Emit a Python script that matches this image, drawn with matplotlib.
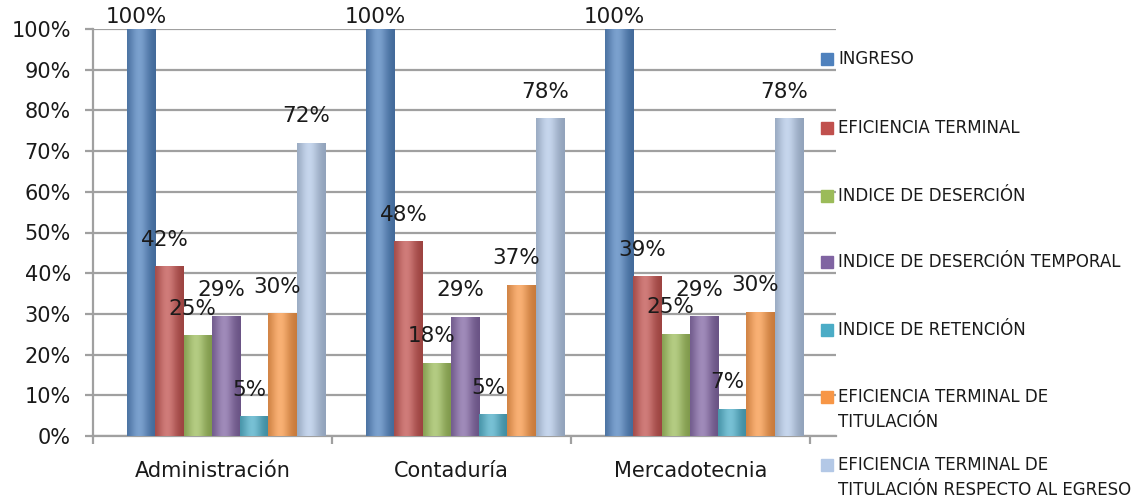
import numpy as np
import matplotlib.pyplot as plt
from matplotlib.colors import to_rgb
from matplotlib.patches import Rectangle

categorias = ["Administración", "Contaduría", "Mercadotecnia"]
series = ["INGRESO", "EFICIENCIA TERMINAL", "INDICE DE DESERCIÓN",
          "INDICE DE DESERCIÓN TEMPORAL", "INDICE DE RETENCIÓN",
          "EFICIENCIA TERMINAL DE\nTITULACIÓN",
          "EFICIENCIA TERMINAL DE\nTITULACIÓN RESPECTO AL EGRESO"]

ingreso = [100, 100, 100]
eficiencia = [41.6, 47.7, 39.1]
desercion = [24.6, 17.9, 25.0]
desercion_temp = [29.3, 29.2, 29.3]
retencion = [4.7, 5.2, 6.6]
titulacion = [30.0, 37.1, 30.4]
titulacion_egreso = [71.9, 77.9, 77.9]
valores = [ingreso, eficiencia, desercion, desercion_temp, retencion,
           titulacion, titulacion_egreso]

colores = ["#4F81BD", "#C0504D", "#9BBB59", "#8064A2", "#4BACC6",
           "#F79646", "#B3C8E6"]

W, H = 1141, 500
fig = plt.figure(figsize=(W / 100, H / 100), dpi=100)
ax = fig.add_axes([93 / W, 64 / H, 743 / W, 407 / H])

grupo_px = 239.0
px_y = 407 / 100.0
ancho = 28.3 / grupo_px
desp = 13.5 / grupo_px
x = np.arange(len(categorias))


def degradado(color):
    base = np.array(to_rgb(color))
    t = np.linspace(0, 1, 80)
    w = np.exp(-((t - 0.42) / 0.34) ** 2)
    oscuro = base * 0.8
    claro = base + (1 - base) * 0.25
    img = oscuro[None, :] * (1 - w[:, None]) + claro[None, :] * w[:, None]
    return img[None, :, :]


for i, (vals, col) in enumerate(zip(valores, colores)):
    pos = x + desp + (i - 3) * ancho
    barras = ax.bar(pos, vals, width=ancho, color=col, zorder=3, linewidth=0)
    for b, v in zip(barras, vals):
        x0, w0, h0 = b.get_x(), b.get_width(), b.get_height()
        ax.imshow(degradado(col), extent=(x0, x0 + w0, 0, h0), aspect="auto",
                  interpolation="bicubic", zorder=4)
        off = min(27, (100 - v) * px_y + 12)
        ax.annotate(f"{round(v)}%", (x0 + w0 / 2, v), xytext=(-5, off),
                    textcoords="offset pixels", ha="center", va="center",
                    fontsize=15.5, color="#1a1a1a", zorder=6, annotation_clip=False)

ax.set_xlim(-0.5, -0.5 + 743 / grupo_px)
ax.set_ylim(0, 100)
ax.set_yticks(np.arange(0, 101, 10))
ax.set_yticklabels([f"{v}%" for v in range(0, 101, 10)])
ax.set_xticks(x)
ax.set_xticklabels(categorias)
ax.set_xticks(np.arange(-0.5, 3, 1), minor=True)

gris = "#a0a0a0"
ax.grid(axis="y", color=gris, linewidth=1.6, zorder=1)
for s in ["top", "right"]:
    ax.spines[s].set_visible(False)
for s in ["left", "bottom"]:
    ax.spines[s].set_color(gris)
    ax.spines[s].set_linewidth(1.6)
ax.tick_params(axis="y", length=6, width=1.6, color=gris, pad=10,
               labelsize=15, labelcolor="#1a1a1a")
ax.tick_params(axis="x", which="major", length=0, pad=18,
               labelsize=15, labelcolor="#1a1a1a")
ax.tick_params(axis="x", which="minor", length=6, width=1.6, color=gris)

# leyenda a la derecha
ley_y = [59, 128, 196, 262, 330, 397, 465]
for nombre, col, yy in zip(series, colores, ley_y):
    fig.patches.append(Rectangle((821 / W, (H - yy - 6) / H), 12 / W, 12 / H,
                                 color=col, transform=fig.transFigure))
    for k, linea in enumerate(nombre.split("\n")):
        fig.text(838 / W, (H - yy - 25 * k) / H, linea, fontsize=12,
                 color="#1a1a1a", va="center", ha="left")

fig.savefig("out.png", dpi=100)
